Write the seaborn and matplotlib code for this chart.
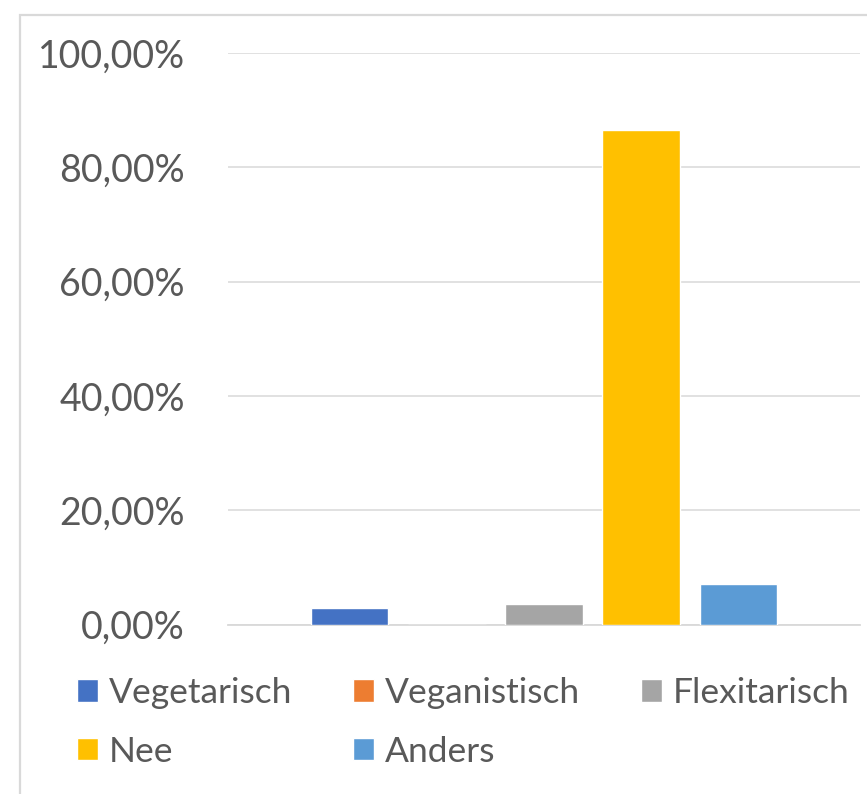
import matplotlib
matplotlib.use("Agg")
import matplotlib.pyplot as plt
import seaborn as sns
import pandas as pd
from matplotlib.ticker import FuncFormatter

# data
categories = ["Vegetarisch", "Veganistisch", "Flexitarisch", "Nee", "Anders"]
percentages = [0.029, 0.0, 0.036, 0.865, 0.070]
colors = ["#4472C4", "#ED7D31", "#A5A5A5", "#FFC000", "#5B9BD5"]
y_ticks = [0.0, 0.2, 0.4, 0.6, 0.8, 1.0]

df = pd.DataFrame({"groep": [""] * len(categories), "categorie": categories, "aandeel": percentages})

sns.set_style("white")
plt.rcParams['font.family'] = ['Lato', 'DejaVu Sans']
text_color = "#595959"
grid_color = "#D9D9D9"

fig = plt.figure(figsize=(8.67, 7.94), dpi=100)
ax = fig.add_axes([228 / 867, 1 - 624.5 / 794, 632 / 867, 571.5 / 794])

sns.barplot(data=df, x="groep", y="aandeel", hue="categorie", hue_order=categories,
            palette=colors, errorbar=None, gap=0.2, width=0.8, saturation=1, ax=ax)

ax.set_ylim(0, 1)
ax.set_xlim(-0.52, 0.52)
ax.set_yticks(y_ticks)
ax.yaxis.set_major_formatter(FuncFormatter(lambda v, p: f"{v * 100:.2f}%".replace(".", ",")))
ax.tick_params(axis="y", length=0, pad=31, labelsize=27, labelcolor=text_color)
ax.set_xticks([])
ax.set_xlabel("")
ax.set_ylabel("")
ax.yaxis.grid(True, color=grid_color, linewidth=1.1)
ax.set_axisbelow(True)
for side in ["top", "right", "left"]:
    ax.spines[side].set_visible(False)
ax.spines["bottom"].set_color(grid_color)
ax.spines["bottom"].set_linewidth(1.3)
ax.spines["bottom"].set_zorder(0.5)

# legend below the plot, filled row by row like Excel
handles, labels = ax.get_legend_handles_labels()
ax.get_legend().remove()
order = [0, 3, 1, 4, 2]
fig.legend([handles[i] for i in order], [labels[i] for i in order], ncol=3,
           loc="upper left", bbox_to_anchor=(77 / 867, 1 - 677 / 794),
           frameon=False, fontsize=25.5, labelcolor=text_color, borderpad=0, borderaxespad=0,
           handlelength=0.6, handleheight=0.6, handletextpad=0.3, columnspacing=1.72,
           labelspacing=0.75)

# light chart border (cropped on right and bottom)
fig.add_artist(plt.Rectangle((20 / 867, -0.1), 1.1, 1.1 - 15 / 794, transform=fig.transFigure,
                             fill=False, edgecolor=grid_color, linewidth=1.6))

fig.savefig("out.png", dpi=100)
